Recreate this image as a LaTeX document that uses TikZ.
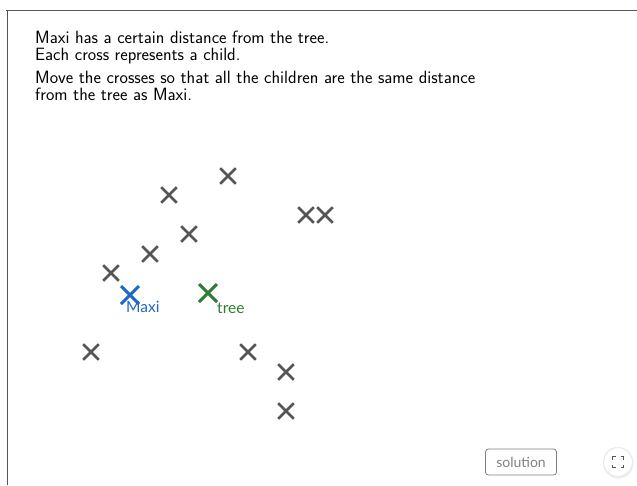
\documentclass[tikz,border=0pt]{standalone}
\usepackage{fontspec}
\newfontfamily\latofont{Lato}
\usetikzlibrary{shapes.misc,positioning,shadows}
\definecolor{kidgray}{HTML}{555555}
\definecolor{maxiblue}{HTML}{1F66C9}
\definecolor{treegreen}{HTML}{2E7D32}
\tikzset{
  kid/.style={cross out,draw=kidgray,line width=2.6pt,minimum size=13pt,inner sep=0pt},
  maxi/.style={kid,draw=maxiblue,line width=3pt,minimum size=15pt},
  tree/.style={kid,draw=treegreen,line width=3pt,minimum size=15pt},
  tag/.style={font=\latofont\fontsize{15.5}{15.5}\selectfont,inner sep=0pt}
}
\begin{document}
\begin{tikzpicture}[x=1pt,y=-1pt]
\useasboundingbox(0,0)rectangle(637,485);
% frame
\draw[kidgray,line width=1pt](6,10)--(637,10);
\draw[kidgray,line width=1pt](7,10)--(7,485);
% task text
\node[anchor=north west,align=left,inner sep=0pt,font=\sffamily\fontsize{17.8}{17}\selectfont](task)at(35,31)
{Maxi has a certain distance from the tree.\\Each cross represents a child.\\[6pt]
Move the crosses so that all the children are the same distance\\from the tree as Maxi.};
% children
\foreach \name/\px/\py in {c1/228/176,c2/169/195,c3/306/215,c4/325/215,c5/189/234,
  c6/150/254,c7/111/273,c8/91/352,c9/248/352,c10/286/372,c11/286/411}
  \node[kid](\name)at(\px,\py){};
% maxi and tree
\node[maxi](maxi)at(130,295){};
\node[tree](tree)at(208,293){};
\node[tag,text=maxiblue,anchor=north west](maxilabel)at(126,301){Maxi};
\node[tag,text=treegreen,anchor=north west](treelabel)at(217,302.5){tree};
% buttons
\node[draw=gray,rounded corners=3pt,line width=0.8pt,minimum width=71pt,minimum height=26pt,
  text=gray,font=\latofont\fontsize{14}{14}\selectfont](solution)at(521,462){solution};
\node[circle,fill=white,draw=black!8,line width=1.2pt,minimum size=29pt,circular drop shadow={opacity=0.35,fill=gray!50,shadow xshift=0pt,shadow yshift=-1pt,shadow scale=1.1}](full)at(618,462){};
\draw[kidgray,line width=1pt](612.5,459.5)--(612.5,456.5)--(615.5,456.5) (620.5,456.5)--(623.5,456.5)--(623.5,459.5)
  (623.5,464.5)--(623.5,467.5)--(620.5,467.5) (615.5,467.5)--(612.5,467.5)--(612.5,464.5);
\end{tikzpicture}
\end{document}
